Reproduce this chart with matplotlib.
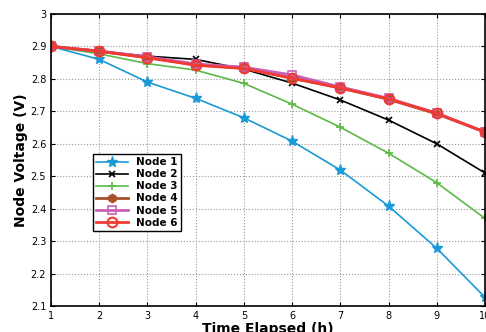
import matplotlib
matplotlib.use("Agg")
import matplotlib.pyplot as plt

# hours elapsed
hours = [1, 2, 3, 4, 5, 6, 7, 8, 9, 10]

# node voltages (V)
node1 = [2.90, 2.86, 2.79, 2.74, 2.68, 2.608, 2.519, 2.408, 2.278, 2.127]
node2 = [2.90, 2.885, 2.870, 2.860, 2.830, 2.787, 2.735, 2.673, 2.600, 2.510]
node3 = [2.90, 2.877, 2.847, 2.827, 2.786, 2.722, 2.651, 2.571, 2.480, 2.370]
node4 = [2.90, 2.885, 2.866, 2.843, 2.833, 2.802, 2.772, 2.737, 2.692, 2.636]
node5 = [2.90, 2.886, 2.868, 2.846, 2.836, 2.812, 2.775, 2.740, 2.694, 2.636]
node6 = [2.90, 2.885, 2.865, 2.842, 2.832, 2.802, 2.772, 2.738, 2.694, 2.636]

fig = plt.figure(figsize=(4.86, 3.32), dpi=100)
ax = fig.add_axes([0.105, 0.078, 0.893, 0.880])

ax.plot(hours, node1, color='#1a9ad6', marker='*', markersize=8, lw=1.2, label='Node 1')
ax.plot(hours, node2, color='black', marker='x', markersize=4, mew=1.2, lw=1.2, label='Node 2')
ax.plot(hours, node3, color='#5cb947', marker='+', markersize=6, mew=1.2, lw=1.2, label='Node 3')
ax.plot(hours, node4, color='#a8502a', marker='h', markersize=6, lw=2, label='Node 4')
ax.plot(hours, node5, color='#c860b8', marker='s', markersize=6, mfc='none', mew=1.2, lw=2, label='Node 5')
ax.plot(hours, node6, color='#f03a32', marker='o', markersize=7, mfc='none', mew=1.5, lw=2, label='Node 6')

ax.set_xlim(1, 10)
ax.set_ylim(2.1, 3.0)
ax.set_xticks(hours)
ax.set_yticks([2.1, 2.2, 2.3, 2.4, 2.5, 2.6, 2.7, 2.8, 2.9, 3.0])
ax.set_yticklabels(['2.1', '2.2', '2.3', '2.4', '2.5', '2.6', '2.7', '2.8', '2.9', '3'])
ax.tick_params(direction='in', labelsize=7, length=3, top=True, right=True)
ax.grid(True, linestyle=':', color='#999999', linewidth=0.8)
for s in ax.spines.values():
    s.set_linewidth(1.2)

ax.set_xlabel('Time Elapsed (h)', fontsize=10, fontweight='bold', labelpad=1)
ax.set_ylabel('Node Voltage (V)', fontsize=10, fontweight='bold', labelpad=2)

leg = ax.legend(loc='lower left', bbox_to_anchor=(0.085, 0.24), fontsize=7.5,
                prop={'weight': 'bold', 'size': 7.5}, fancybox=False, framealpha=1,
                edgecolor='black', handlelength=3, labelspacing=0.2, borderpad=0.3)
leg.get_frame().set_linewidth(1.0)

fig.savefig('out.png', dpi=100)
